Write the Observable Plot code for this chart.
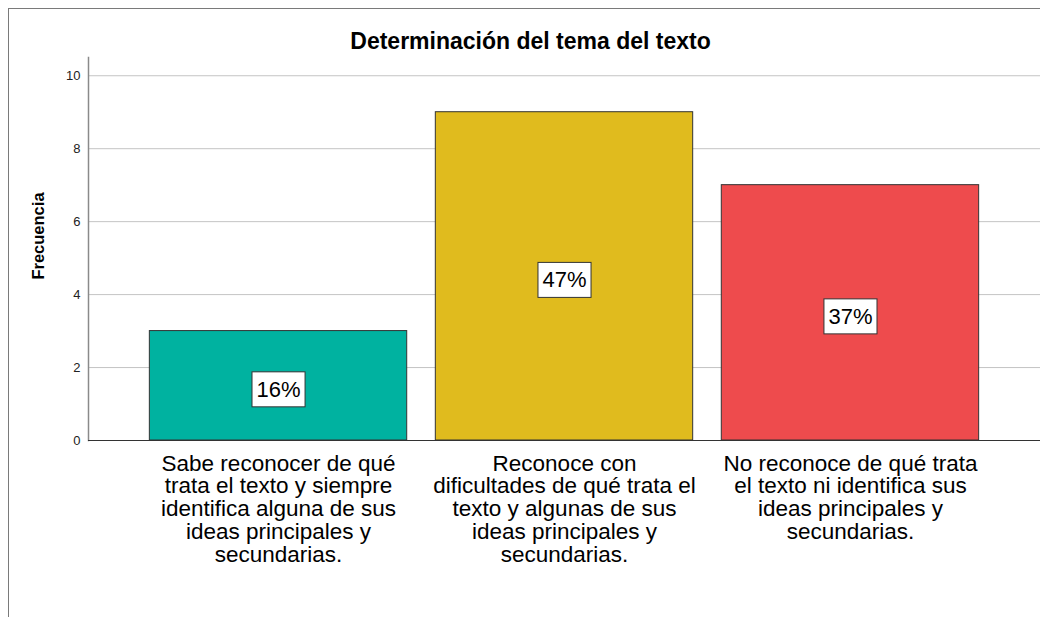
<!DOCTYPE html>
<html><head><meta charset="utf-8">
<script src="https://cdn.jsdelivr.net/npm/d3@7"></script>
<script src="https://cdn.jsdelivr.net/npm/@observablehq/plot@0.6"></script>
<style>
html,body{margin:0;padding:0;background:#fff;}
#wrap{position:relative;width:1040px;height:617px;overflow:hidden;font-family:"Liberation Sans",Arial,sans-serif;background:#fff;}
#chart{position:absolute;left:0;top:0;z-index:1;}
#bTop{position:absolute;left:8px;top:8px;width:1040px;height:0;border-top:1px solid #7a7a7a;z-index:3;}
#bLeft{position:absolute;left:8px;top:8px;width:0;height:620px;border-left:1px solid #7a7a7a;z-index:3;}
#title{position:absolute;left:8px;width:1045px;top:30px;line-height:23px;font-size:23px;font-weight:bold;text-align:center;color:#000;z-index:2;}
</style></head>
<body>
<div id="wrap"><div id="chart"></div><div id="title"></div><div id="bTop"></div><div id="bLeft"></div></div>
<script>
const title = "Determinación del tema del texto";
const yLabel = "Frecuencia";
const categories = [
  "Sabe reconocer de qué trata el texto y siempre identifica alguna de sus ideas principales y secundarias.",
  "Reconoce con dificultades de qué trata el texto y algunas de sus ideas principales y secundarias.",
  "No reconoce de qué trata el texto ni identifica sus ideas principales y secundarias."
];
const categoryLabels = [
  "Sabe reconocer de qué\ntrata el texto y siempre\nidentifica alguna de sus\nideas principales y\nsecundarias.",
  "Reconoce con\ndificultades de qué trata el\ntexto y algunas de sus\nideas principales y\nsecundarias.",
  "No reconoce de qué trata\nel texto ni identifica sus\nideas principales y\nsecundarias."
];
const frequencies = [3, 9, 7];
const percentLabels = ["16%", "47%", "37%"];
const barColors = ["#00B2A0", "#E0BB1E", "#EE4B4D"];
const yTicks = [0, 2, 4, 6, 8, 10];

document.getElementById("title").textContent = title;

const data = categories.map((c, i) => ({category: c, value: frequencies[i], pct: percentLabels[i]}));
const font = "'Liberation Sans', Arial, sans-serif";

const plot = Plot.plot({
  width: 1040, height: 617,
  marginLeft: 88, marginRight: 0, marginTop: 57, marginBottom: 177,
  style: {fontFamily: font, background: "transparent", color: "#000"},
  x: {domain: categories, paddingInner: 0.1, paddingOuter: 0.2145, round: false, axis: null},
  y: {domain: [0, 10.5], axis: null},
  color: {domain: categories, range: barColors},
  marks: [
    Plot.gridY(yTicks, {stroke: "#c4c4c4", strokeOpacity: 1}),
    Plot.axisY(yTicks, {tickSize: 0, tickPadding: 8, fontSize: 13, fill: "#222", label: null}),
    Plot.frame({anchor: "left", stroke: "#8a8a8a", strokeWidth: 1.5}),
    Plot.barY(data, {x: "category", y: "value", fill: "category", stroke: "#333", strokeWidth: 1}),
    Plot.ruleY([0], {stroke: "#333"}),
    Plot.axisX({tickSize: 0, tickPadding: 14, fontSize: 22.5, lineHeight: 1.01, fill: "#000", label: null,
      tickFormat: d => categoryLabels[categories.indexOf(d)]}),
    Plot.text(data, {x: "category", y: d => d.value / 2, text: "pct", fontSize: 22, dy: 4, fill: "#000", className: "pct"}),
    Plot.text([yLabel], {frameAnchor: "left", textAnchor: "middle", rotate: -90, dx: -50, dy: -13, fontSize: 16.5, fontWeight: "bold", fill: "#000"})
  ]
});

document.getElementById("chart").append(plot);

d3.select(plot).selectAll("g.pct text").each(function() {
  const b = this.getBBox();
  const padX = 4.5, padY = 5;
  const rect = document.createElementNS("http://www.w3.org/2000/svg", "rect");
  rect.setAttribute("x", b.x - padX);
  rect.setAttribute("y", b.y - padY);
  rect.setAttribute("width", b.width + 2 * padX);
  rect.setAttribute("height", b.height + 2 * padY);
  rect.setAttribute("fill", "#fff");
  rect.setAttribute("stroke", "#333");
  rect.setAttribute("stroke-width", "1");
  const t = this.getAttribute("transform");
  if (t) rect.setAttribute("transform", t);
  this.parentNode.insertBefore(rect, this);
});
</script>
</body></html>
